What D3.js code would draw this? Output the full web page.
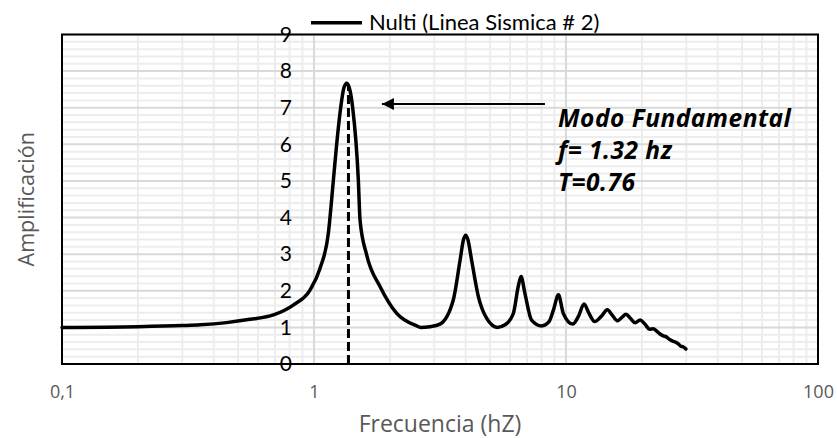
<!DOCTYPE html>
<html lang="es">
  <head>
    <meta charset="utf-8" />
    <title>Nulti (Linea Sismica # 2)</title>
    <script src="https://d3js.org/d3.v7.min.js"></script>
    <style>
      body { margin: 0; background: #fff; }
      svg { display: block; }
    </style>
  </head>
  <body>
    <div id="chart"></div>
    <script>
      // data
      const seriesName = "Nulti (Linea Sismica # 2)";
      const freq = [
        0.1, 0.2, 0.3, 0.354, 0.45, 0.557, 0.69, 0.827, 0.964, 1.056, 1.14,
        1.193, 1.23, 1.276, 1.315, 1.348, 1.38, 1.424, 1.5, 1.523, 1.618, 1.83,
        2.13, 2.556, 2.65, 2.88, 3.16, 3.57, 3.8, 3.92, 4.0, 4.08, 4.22, 4.49,
        4.84, 5.34, 5.73, 6.18, 6.46, 6.63, 6.87, 7.3, 8.01, 8.55, 8.92, 9.33,
        9.76, 10.63, 11.2, 11.8, 12.3, 13.0, 13.8, 14.6, 15.2, 16.0, 16.7, 17.3,
        18.0, 18.8, 19.7, 20.5, 21.5, 22.2, 22.9, 23.6, 24.3, 25.0, 25.9, 26.8,
        27.2, 27.9, 28.6, 29.2, 29.9
      ];
      const amp = [
        1.0, 1.02, 1.05, 1.07, 1.13, 1.22, 1.34, 1.61, 2.02, 2.61, 3.57,
        5.0, 6.0, 7.0, 7.55, 7.67, 7.55, 7.0, 5.0, 3.93, 2.98, 2.11,
        1.38, 1.04, 1.0, 1.02, 1.09, 1.75, 2.84, 3.4, 3.52, 3.4, 2.84, 1.84,
        1.25, 1.0, 1.07, 1.38, 2.11, 2.39, 1.93, 1.2, 1.04, 1.15, 1.48, 1.89,
        1.38, 1.09, 1.3, 1.64, 1.4, 1.16, 1.3, 1.48, 1.35, 1.18, 1.28, 1.36,
        1.25, 1.13, 1.2, 1.1, 0.95, 0.96, 0.9, 0.82, 0.77, 0.74, 0.66, 0.61,
        0.6, 0.55, 0.48, 0.47, 0.41
      ];
      const xTicks = [0.1, 1, 10, 100];
      const xTickLabels = ["0,1", "1", "10", "100"];
      const yTicks = [0, 1, 2, 3, 4, 5, 6, 7, 8, 9];
      const fundFreq = 1.37;
      const fundTop = 7.6;
      const arrowFrom = [8.25, 7.1];
      const arrowTo = [1.86, 7.1];
      const noteLines = ["Modo Fundamental", "f= 1.32 hz", "T=0.76"];

      const cW = 837,
        cH = 438,
        cLeft = 62,
        cRight = 818,
        cTop = 34.5,
        cBottom = 364;

      const svg = d3
        .select("#chart")
        .append("svg")
        .attr("width", cW)
        .attr("height", cH);

      const xScale = d3.scaleLog().domain([0.1, 100]).range([cLeft, cRight]);
      const yScale = d3.scaleLinear().domain([0, 9]).range([cBottom, cTop]);

      //gridlines
      const minorX = [];
      [0.1, 1, 10].forEach((dec) => {
        for (let k = 2; k <= 9; k++) minorX.push(dec * k);
      });
      const minorY = d3.range(0, 9.01, 0.2).filter((v) => Math.abs(v - Math.round(v)) > 0.01);
      const grid = svg.append("g");
      grid
        .selectAll(".mx")
        .data(minorX)
        .enter()
        .append("line")
        .attr("x1", (d) => xScale(d))
        .attr("x2", (d) => xScale(d))
        .attr("y1", cTop)
        .attr("y2", cBottom)
        .attr("stroke", "#ededed")
        .attr("stroke-width", 2);
      grid
        .selectAll(".my")
        .data(minorY)
        .enter()
        .append("line")
        .attr("x1", cLeft)
        .attr("x2", cRight)
        .attr("y1", (d) => yScale(d))
        .attr("y2", (d) => yScale(d))
        .attr("stroke", "#ededed")
        .attr("stroke-width", 2);
      grid
        .selectAll(".Mx")
        .data([1, 10])
        .enter()
        .append("line")
        .attr("x1", (d) => xScale(d))
        .attr("x2", (d) => xScale(d))
        .attr("y1", cTop)
        .attr("y2", cBottom)
        .attr("stroke", "#d9d9d9")
        .attr("stroke-width", 2);
      grid
        .selectAll(".My")
        .data(yTicks)
        .enter()
        .append("line")
        .attr("x1", cLeft)
        .attr("x2", cRight)
        .attr("y1", (d) => yScale(d))
        .attr("y2", (d) => yScale(d))
        .attr("stroke", "#d9d9d9")
        .attr("stroke-width", 2);

      //plot border
      svg
        .append("rect")
        .attr("x", cLeft)
        .attr("y", cTop)
        .attr("width", cRight - cLeft)
        .attr("height", cBottom - cTop)
        .attr("fill", "none")
        .attr("stroke", "#000")
        .attr("stroke-width", 2);

      //axes
      const xAxis = d3
        .axisBottom(xScale)
        .tickValues(xTicks)
        .tickFormat((d, i) => xTickLabels[i])
        .tickSize(0)
        .tickPadding(21);
      const gx = svg
        .append("g")
        .attr("transform", `translate(0,${cBottom})`)
        .call(xAxis);
      gx.select(".domain").remove();
      gx.selectAll("text")
        .attr("fill", "#595959")
        .style("font-family", "'Open Sans', sans-serif")
        .style("font-size", "18px");

      const yAxis = d3.axisLeft(yScale).tickValues(yTicks).tickSize(0).tickPadding(22);
      const gy = svg
        .append("g")
        .attr("transform", `translate(${xScale(1)},0)`)
        .call(yAxis);
      gy.select(".domain").remove();
      gy.selectAll("text")
        .attr("fill", "#000")
        .style("font-family", "Lato, sans-serif")
        .style("font-size", "21px");

      //axis titles
      svg
        .append("text")
        .attr("x", 440)
        .attr("y", 432)
        .attr("text-anchor", "middle")
        .attr("fill", "#595959")
        .style("font-family", "'Open Sans', sans-serif")
        .style("font-size", "23px")
        .text("Frecuencia (hZ)");
      svg
        .append("text")
        .attr("transform", `translate(34,${(cTop + cBottom) / 2}) rotate(-90)`)
        .attr("text-anchor", "middle")
        .attr("fill", "#595959")
        .style("font-family", "'Open Sans', sans-serif")
        .style("font-size", "21.5px")
        .text("Amplificación");

      //series
      const points = freq.map((f, i) => [f, amp[i]]);
      const line = d3
        .line()
        .x((d) => xScale(d[0]))
        .y((d) => yScale(d[1]))
        .curve(d3.curveMonotoneX);
      svg
        .append("path")
        .datum(points)
        .attr("d", line)
        .attr("fill", "none")
        .attr("stroke", "#000")
        .attr("stroke-width", 3.5)
        .attr("stroke-linejoin", "round")
        .attr("stroke-linecap", "round");

      //fundamental mode marker
      svg
        .append("line")
        .attr("x1", xScale(fundFreq))
        .attr("x2", xScale(fundFreq))
        .attr("y1", yScale(0))
        .attr("y2", yScale(fundTop))
        .attr("stroke", "#000")
        .attr("stroke-width", 3)
        .attr("stroke-dasharray", "9,4");

      svg
        .append("defs")
        .append("marker")
        .attr("id", "head")
        .attr("viewBox", "0 0 10 10")
        .attr("refX", 10)
        .attr("refY", 5)
        .attr("markerUnits", "userSpaceOnUse")
        .attr("markerWidth", 15)
        .attr("markerHeight", 12)
        .attr("orient", "auto")
        .append("path")
        .attr("d", "M10,5 L0,0 L0,10 Z")
        .attr("fill", "#000");
      svg
        .append("line")
        .attr("x1", xScale(arrowFrom[0]))
        .attr("y1", yScale(arrowFrom[1]))
        .attr("x2", xScale(arrowTo[0]))
        .attr("y2", yScale(arrowTo[1]))
        .attr("stroke", "#000")
        .attr("stroke-width", 2)
        .attr("marker-end", "url(#head)");

      svg
        .append("g")
        .selectAll("text")
        .data(noteLines)
        .enter()
        .append("text")
        .attr("x", 558)
        .attr("y", (d, i) => 127 + i * 32)
        .attr("fill", "#000")
        .style("font-family", "'Open Sans', sans-serif")
        .style("font-weight", "bold")
        .style("font-style", "italic")
        .style("font-size", "24.5px")
        .style("letter-spacing", "0.5px")
        .text((d) => d);

      //legend
      const legend = svg.append("g");
      legend
        .append("line")
        .attr("x1", 311)
        .attr("x2", 362)
        .attr("y1", 22.7)
        .attr("y2", 22.7)
        .attr("stroke", "#000")
        .attr("stroke-width", 3.5);
      legend
        .append("text")
        .attr("x", 369)
        .attr("y", 29.5)
        .attr("fill", "#000")
        .style("font-family", "Lato, sans-serif")
        .style("font-size", "22px")
        .text(seriesName);
    </script>
  </body>
</html>
